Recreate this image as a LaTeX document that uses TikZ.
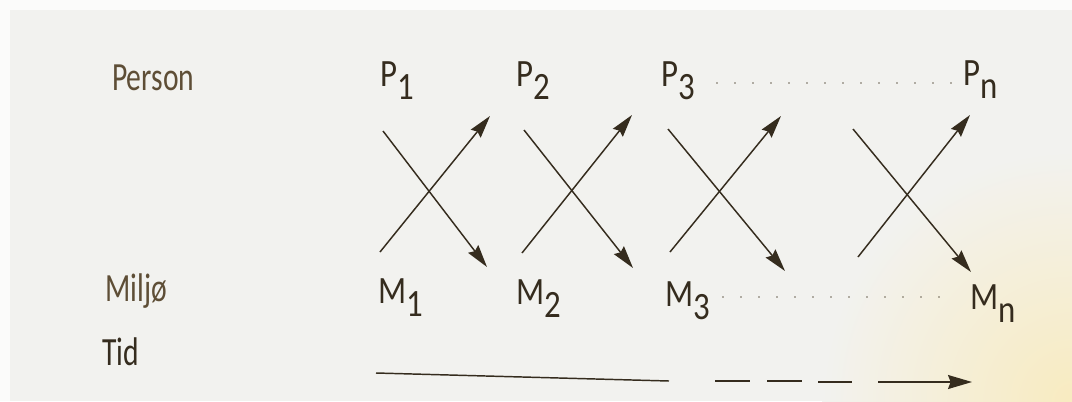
\documentclass[tikz,border=0pt]{standalone}
\usepackage{fontspec}
\setmainfont{Carlito}[FakeStretch=0.74]
\newfontfamily\varfont{Carlito}[FakeStretch=0.85]
\usetikzlibrary{arrows.meta}
\definecolor{bgc}{HTML}{F2F2EF}
\definecolor{edgec}{HTML}{FBFBFA}
\definecolor{glow}{HTML}{F8EBC0}
\definecolor{ink}{HTML}{352C1E}
\definecolor{labink}{HTML}{5E4E36}
\definecolor{dotc}{HTML}{6E6656}
\newcommand\lowsub[1]{\raisebox{-10pt}{#1}}
\begin{document}
\begin{tikzpicture}[x=0.75pt,y=-0.75pt,
  rowlab/.style={inner sep=0pt, anchor=base west, text=labink, font=\fontsize{30}{30}\selectfont},
  tidlab/.style={rowlab, text=ink},
  var/.style={inner sep=0pt, anchor=base west, text=ink, font=\varfont\fontsize{29}{29}\selectfont},
  flow/.style={draw=ink, line width=1.1pt, -{Stealth[length=17pt,width=9.5pt,inset=2pt]}},
  timeline/.style={draw=ink, line width=1.1pt},
  timehead/.style={timeline, -{Stealth[length=18pt,width=10.5pt,inset=2pt]}},
  dots/.style={draw=dotc, line width=1.2pt, line cap=round, dash pattern=on 0pt off 13.5pt}]
\useasboundingbox (0,0) rectangle (1072,401);
\fill[edgec] (0,0) rectangle (1072,401);
\fill[bgc] (10,10) rectangle (1072,401);
\begin{scope}
  \clip (10,10) rectangle (1072,401);
  \shade[inner color=glow, outer color=bgc] (1072,401) circle (250);
\end{scope}

% row labels
\node[rowlab] (person) at (112,90) {Person};
\node[rowlab] (miljo) at (105,301) {Miljø};
\node[tidlab] (tid) at (102,365) {Tid};

% persons
\node[var] (P1) at (380,86) {P\lowsub{1}};
\node[var] (P2) at (516,86) {P\lowsub{2}};
\node[var] (P3) at (661,86) {P\lowsub{3}};
\node[var] (Pn) at (963,85) {P\lowsub{n}};

% environments
\node[var] (M1) at (378,303) {M\lowsub{1}};
\node[var] (M2) at (516,304) {M\lowsub{2}};
\node[var] (M3) at (665,306) {M\lowsub{3}};
\node[var] (Mn) at (970,309) {M\lowsub{n}};

% arrow end points
\coordinate (a1s) at (383,131); \coordinate (a1e) at (487,267);
\coordinate (b1s) at (380,252); \coordinate (b1e) at (490,116);
\coordinate (a2s) at (524,130); \coordinate (a2e) at (633,268);
\coordinate (b2s) at (522,253); \coordinate (b2e) at (632,115);
\coordinate (a3s) at (668,129); \coordinate (a3e) at (785,271);
\coordinate (b3s) at (670,252); \coordinate (b3e) at (781,116);
\coordinate (a4s) at (853,129); \coordinate (a4e) at (971,272);
\coordinate (b4s) at (858,257); \coordinate (b4e) at (970,115);

\draw[flow] (a1s) -- (a1e);
\draw[flow] (b1s) -- (b1e);
\draw[flow] (a2s) -- (a2e);
\draw[flow] (b2s) -- (b2e);
\draw[flow] (a3s) -- (a3e);
\draw[flow] (b3s) -- (b3e);
\draw[flow] (a4s) -- (a4e);
\draw[flow] (b4s) -- (b4e);

% dotted continuations
\coordinate (dp0) at (717,83); \coordinate (dp1) at (957,83);
\coordinate (dm0) at (723,297); \coordinate (dm1) at (957,297);
\draw[dots] (dp0) -- (dp1);
\draw[dots] (dm0) -- (dm1);

% time axis
\coordinate (t0) at (376,373); \coordinate (t1) at (669,381);
\coordinate (d1a) at (715,381); \coordinate (d1b) at (750,381);
\coordinate (d2a) at (767,381); \coordinate (d2b) at (802,381);
\coordinate (d3a) at (818,382); \coordinate (d3b) at (852,382);
\coordinate (t2) at (878,382); \coordinate (t3) at (972,382);
\draw[timeline] (t0) -- (t1);
\draw[timeline] (d1a) -- (d1b);
\draw[timeline] (d2a) -- (d2b);
\draw[timeline] (d3a) -- (d3b);
\draw[timehead] (t2) -- (t3);
\end{tikzpicture}
\end{document}
